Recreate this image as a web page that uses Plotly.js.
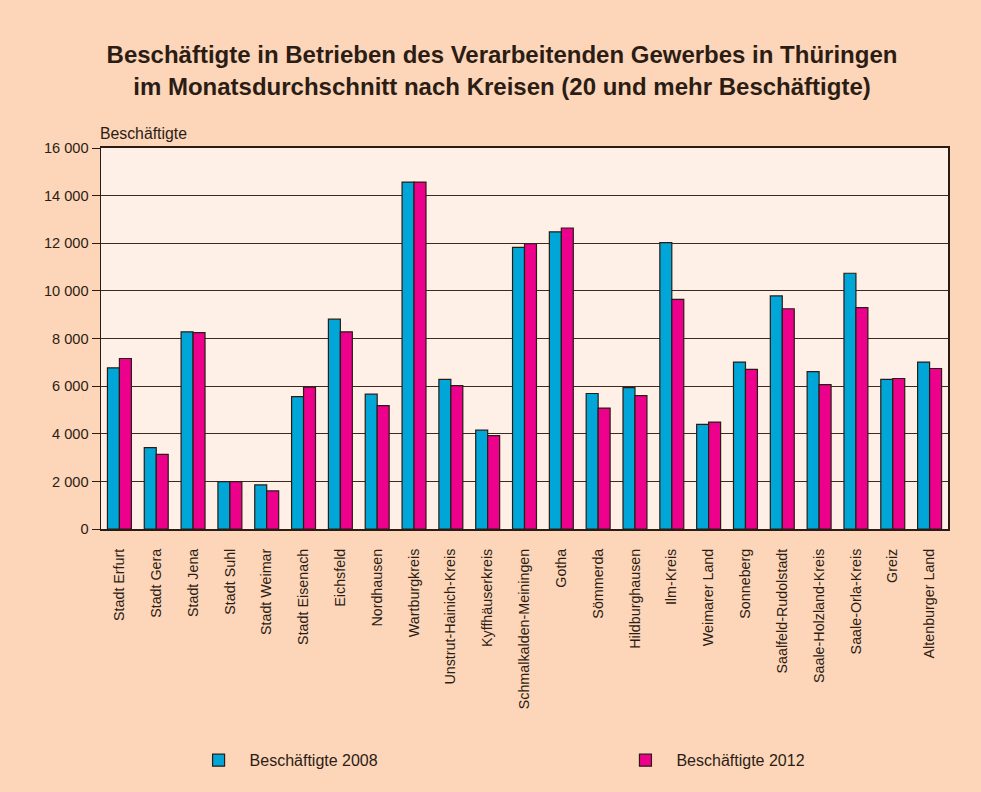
<!DOCTYPE html>
<html><head><meta charset="utf-8">
<script src="https://cdn.plot.ly/plotly-3.0.1.min.js"></script>
<style>html,body{margin:0;padding:0;background:#FDD5B9;}#chart{width:981px;height:792px;}</style>
</head><body><div id="chart"></div>
<script>
const kreise = ["Stadt Erfurt","Stadt Gera","Stadt Jena","Stadt Suhl","Stadt Weimar","Stadt Eisenach","Eichsfeld","Nordhausen","Wartburgkreis","Unstrut-Hainich-Kreis","Kyffhäuserkreis","Schmalkalden-Meiningen","Gotha","Sömmerda","Hildburghausen","Ilm-Kreis","Weimarer Land","Sonneberg","Saalfeld-Rudolstadt","Saale-Holzland-Kreis","Saale-Orla-Kreis","Greiz","Altenburger Land"];
const besch2008 = [6770,3420,8280,1990,1850,5560,8810,5660,14570,6280,4150,11830,12480,5690,5940,12030,4390,7010,9790,6610,10740,6280,7010];
const besch2012 = [7160,3130,8250,1990,1600,5960,8280,5180,14570,6020,3920,11980,12640,5080,5600,9640,4490,6700,9250,6060,9300,6320,6740];
const yTicks = [0,2000,4000,6000,8000,10000,12000,14000,16000];

const outline = {color:'#2a1c14', width:1.2};
const traces = [
  {type:'bar', name:'Beschäftigte 2008', x:kreise, y:besch2008, marker:{color:'#00A6D8', line:outline}, legend:'legend'},
  {type:'bar', name:'Beschäftigte 2012', x:kreise, y:besch2012, marker:{color:'#EC008C', line:outline}, legend:'legend2'}
];
const txt = '#2b1d14';
const legBase = {orientation:'h', xanchor:'left', yanchor:'middle', itemwidth:52, font:{size:16, color:txt}, bgcolor:'rgba(0,0,0,0)', borderwidth:0};
const layout = {
  width:981, height:792,
  paper_bgcolor:'#FDD5B9', plot_bgcolor:'#FEF0E6',
  font:{family:'Liberation Sans, Arial, sans-serif', size:14, color:txt},
  separators:', ',
  margin:{l:101, r:33, t:148, b:263},
  barmode:'group', bargap:0.35, bargroupgap:0,
  title:{text:'<b>Beschäftigte in Betrieben des Verarbeitenden Gewerbes in Thüringen<br>im Monatsdurchschnitt nach Kreisen (20 und mehr Beschäftigte)</b>',
    font:{size:24, color:txt}, x:502/981, xref:'container', xanchor:'center', y:0.92, yanchor:'middle'},
  xaxis:{type:'category', tickangle:-90, showline:true, linecolor:'#2a1c14', linewidth:2, mirror:true,
    ticks:'', showgrid:false, tickfont:{size:14.3, color:txt}, automargin:false, ticklabelstandoff:12},
  yaxis:{range:[0,16000], tickvals:yTicks, tickformat:',d', showline:true, linecolor:'#2a1c14', linewidth:1.5,
    mirror:true, ticks:'outside', ticklen:8, tickcolor:'#2a1c14', gridcolor:'#3a2a22', gridwidth:1.2,
    zeroline:false, tickfont:{size:14.6, color:txt}, automargin:false},
  legend: Object.assign({}, legBase, {x:0.1022, y:-0.607}),
  legend2: Object.assign({}, legBase, {x:0.6062, y:-0.607}),
  annotations:[{text:'Beschäftigte', xref:'paper', yref:'paper', x:0, y:1, xanchor:'left', yanchor:'bottom', yshift:4, xshift:-3,
    showarrow:false, font:{size:15.8, color:txt}}],
  showlegend:true
};
Plotly.newPlot('chart', traces, layout, {displayModeBar:false, staticPlot:true});
</script></body></html>
